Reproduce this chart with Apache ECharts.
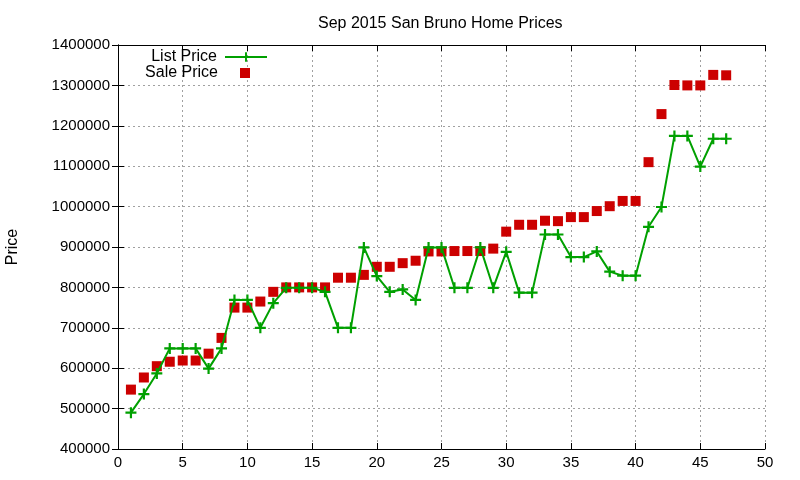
<!DOCTYPE html>
<html>
<head>
    <meta charset="UTF-8">
    <script src="https://cdn.jsdelivr.net/npm/echarts@6/dist/echarts.min.js"></script>
    <style>
    html, body { margin: 0; padding: 0; background: #fff; }
    #chart { width: 800px; height: 480px; }
    </style>
</head>
<body>
    <div id="chart"></div>
    <script>
    // house number along the x axis
    var houseNo = [1, 2, 3, 4, 5, 6, 7, 8, 9, 10, 11, 12, 13, 14, 15, 16, 17, 18, 19, 20,
        21, 22, 23, 24, 25, 26, 27, 28, 29, 30, 31, 32, 33, 34, 35, 36, 37, 38, 39, 40,
        41, 42, 43, 44, 45, 46, 47];
    var listPrice = [490000, 536000, 587000, 649000, 649000, 649000, 599000, 649000, 769000, 769000,
        700000, 761000, 799000, 799000, 799000, 789000, 700000, 700000, 899000, 828000,
        789000, 795000, 769000, 899000, 899000, 799000, 799000, 899000, 799000, 888000,
        787000, 787000, 931000, 931000, 875000, 875000, 889000, 839000, 829000, 829000,
        950000, 999000, 1175000, 1175000, 1099000, 1168000, 1168000];
    var salePrice = [547000, 577000, 605000, 616000, 619000, 619000, 636000, 675000, 750000, 750000,
        765000, 789000, 800000, 800000, 800000, 800000, 824000, 824000, 831000, 851000,
        851000, 860000, 866000, 889000, 889000, 890000, 890000, 890000, 896000, 938000,
        955000, 955000, 965000, 964000, 974000, 974000, 989000, 1001000, 1014000, 1014000,
        1110000, 1229000, 1301000, 1300000, 1300000, 1326000, 1325000];

    var font = 'Liberation Sans';
    var plus = 'path://M4,0H6V4H10V6H6V10H4V6H0V4H4Z';

    function pairs(vals) {
        return vals.map(function(v, i) { return [houseNo[i], v]; });
    }

    var mirrorTick = { show: true, inside: true, length: 6, lineStyle: { color: '#000' } };
    var gridLine = { show: true, lineStyle: { color: '#a0a0a0', type: [2, 3], width: 1 } };

    var option = {
        animation: false,
        backgroundColor: '#fff',
        textStyle: { fontFamily: font },
        title: {
            text: 'Sep 2015 San Bruno Home Prices',
            left: 313,
            top: 11,
            textStyle: { fontFamily: font, fontSize: 16, fontWeight: 'normal', color: '#000' }
        },
        legend: [{
            data: [{ name: 'List Price' }],
            right: 532,
            top: 49,
            padding: 0,
            align: 'right',
            itemWidth: 42,
            itemHeight: 12,
            textStyle: { fontFamily: font, fontSize: 16, color: '#000', padding: [0, 3, 0, 0] }
        }, {
            data: [{ name: 'Sale Price' }],
            right: 550,
            top: 65,
            padding: 0,
            align: 'right',
            itemWidth: 10,
            itemHeight: 10,
            itemGap: 0,
            textStyle: { fontFamily: font, fontSize: 16, color: '#000', padding: [0, 17, 0, 0] }
        }],
        grid: { left: 118, right: 35, top: 45, bottom: 31, outerBoundsMode: 'none' },
        xAxis: [{
            type: 'value',
            min: 0, max: 50, interval: 5,
            axisLine: { show: true, lineStyle: { color: '#000' } },
            axisTick: mirrorTick,
            axisLabel: { fontFamily: font, fontSize: 15, color: '#000', margin: 6 },
            splitLine: gridLine
        }, {
            type: 'value', position: 'top',
            min: 0, max: 50, interval: 5,
            axisLine: { show: true, lineStyle: { color: '#000' } },
            axisTick: mirrorTick,
            axisLabel: { show: false },
            splitLine: { show: false }
        }],
        yAxis: [{
            type: 'value',
            min: 400000, max: 1400000, interval: 100000,
            name: 'Price',
            nameLocation: 'middle',
            nameGap: 97,
            nameTextStyle: { fontFamily: font, fontSize: 16, color: '#000' },
            axisLine: { show: true, lineStyle: { color: '#000' } },
            axisTick: mirrorTick,
            axisLabel: {
                fontFamily: font, fontSize: 15, color: '#000', margin: 8,
                formatter: function(v) { return String(v); }
            },
            splitLine: gridLine
        }, {
            type: 'value', position: 'right',
            min: 400000, max: 1400000, interval: 100000,
            axisLine: { show: true, lineStyle: { color: '#000' } },
            axisTick: mirrorTick,
            axisLabel: { show: false },
            splitLine: { show: false }
        }],
        series: [{
            name: 'List Price',
            type: 'line',
            data: pairs(listPrice),
            symbol: plus,
            symbolSize: 11,
            showAllSymbol: true,
            itemStyle: { color: '#00a000' },
            lineStyle: { color: '#00a000', width: 2 },
            z: 3
        }, {
            name: 'Sale Price',
            type: 'scatter',
            data: pairs(salePrice),
            symbol: 'rect',
            symbolSize: 10,
            itemStyle: { color: '#cc0000', opacity: 1 },
            z: 2
        }]
    };

    var myChart = echarts.init(document.getElementById('chart'));
    myChart.setOption(option);
    </script>
</body>
</html>
